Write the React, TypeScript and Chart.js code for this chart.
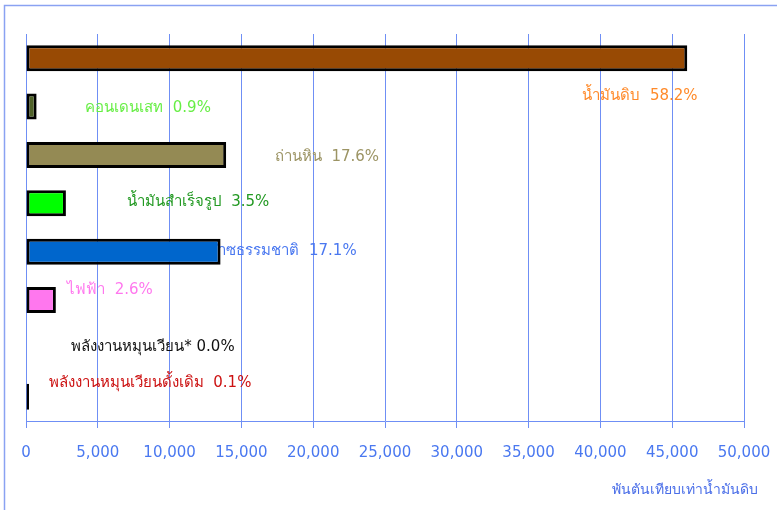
import React, { useEffect, useRef } from "react";
import { Chart, registerables } from "chart.js";

Chart.register(...registerables);

const categories = [
  "น้ำมันดิบ",
  "คอนเดนเสท",
  "ถ่านหิน",
  "น้ำมันสำเร็จรูป",
  "ก๊าซธรรมชาติ",
  "ไฟฟ้า",
  "พลังงานหมุนเวียน*",
  "พลังงานหมุนเวียนดั้งเดิม",
];
const values = [46050, 740, 13940, 2780, 13550, 2080, 0, 80];
const shares = ["58.2%", "0.9%", "17.6%", "3.5%", "17.1%", "2.6%", "0.0%", "0.1%"];
const barColors = ["#984a04", "#4f6228", "#948a54", "#00ff00", "#0066cc", "#ff77ee", "#000000", "#000000"];
const labelColors = ["#ff8a2a", "#66ee44", "#9c9464", "#229922", "#4a78f0", "#ff77ee", "#111111", "#cc1111"];
const labelSeparators = ["  ", "  ", "  ", "  ", "  ", "  ", " ", "  "];
// label anchor (centre) along value axis, and vertical offset in px from bar centre
const labelCenters = [42760, 8500, 20960, 11980, 17900, 5850, 8840, 8640];
const labelDy = [38, 2, 2, -1, -1, -10, -1, -14];
const xTicks = { min: 0, max: 50000, step: 5000 };
const axisTitle = "พันตันเทียบเท่าน้ำมันดิบ";

const FONT = "'DejaVu Sans', Tahoma, sans-serif";

const labelPlugin = {
  id: "barLabels",
  beforeDraw(chart: any) {
    const ctx = chart.ctx;
    ctx.save();
    ctx.strokeStyle = "#8aa2f2";
    ctx.lineWidth = 1.5;
    ctx.strokeRect(4.5, 5.5, 900, 700);
    ctx.restore();
  },
  beforeDatasetsDraw(chart: any) {
    const ctx = chart.ctx;
    const xs = chart.scales.x;
    const ys = chart.scales.y;
    ctx.save();
    ctx.font = `15px ${FONT}`;
    ctx.textAlign = "center";
    ctx.textBaseline = "middle";
    categories.forEach((c, i) => {
      const x = xs.getPixelForValue(labelCenters[i]);
      const y = ys.getPixelForValue(i) + labelDy[i];
      ctx.fillStyle = labelColors[i];
      ctx.fillText(c + labelSeparators[i] + shares[i], x, y);
    });
    ctx.restore();
  },
  afterDraw(chart: any) {
    const ctx = chart.ctx;
    const a = chart.chartArea;
    ctx.save();
    ctx.font = `14px ${FONT}`;
    ctx.fillStyle = "#4a6ee8";
    ctx.textAlign = "right";
    ctx.textBaseline = "middle";
    ctx.fillText(axisTitle, a.right + 14, 490);
    ctx.restore();
  },
};

export default function App() {
  const ref = useRef<HTMLCanvasElement>(null);
  useEffect(() => {
    if (!ref.current) return;
    const chart = new Chart(ref.current, {
      type: "bar",
      data: {
        labels: categories,
        datasets: [
          {
            data: values.map((v) => (v > 0 ? v : null)),
            backgroundColor: barColors,
            borderColor: "#000000",
            borderWidth: 3,
            borderSkipped: false,
            minBarLength: 3,
            barPercentage: 0.54,
            categoryPercentage: 1,
          },
        ],
      },
      options: {
        indexAxis: "y",
        responsive: false,
        animation: false,
        layout: { padding: { left: 26, right: 33, top: 34, bottom: 48 } },
        plugins: { legend: { display: false }, tooltip: { enabled: false }, title: { display: false } },
        scales: {
          y: { display: false },
          x: {
            min: xTicks.min,
            max: xTicks.max,
            afterFit: (s: any) => {
              s.height = 41;
              s.paddingLeft = 0;
              s.paddingRight = 0;
            },
            ticks: {
              stepSize: xTicks.step,
              color: "#4a78f0",
              font: { family: FONT, size: 15 },
              padding: 16,
              maxRotation: 0,
              callback: (v: any) => Number(v).toLocaleString("en-US"),
            },
            grid: { color: "#6f8ff5", lineWidth: 1, drawTicks: true, tickLength: 7 },
            border: { display: true, color: "#6f8ff5", width: 1 },
          },
        },
      },
      plugins: [labelPlugin],
    });
    return () => chart.destroy();
  }, []);
  return (
    <canvas
      ref={ref}
      width={777}
      height={510}
      style={{ position: "absolute", left: 0, top: 0, display: "block" }}
    />
  );
}
